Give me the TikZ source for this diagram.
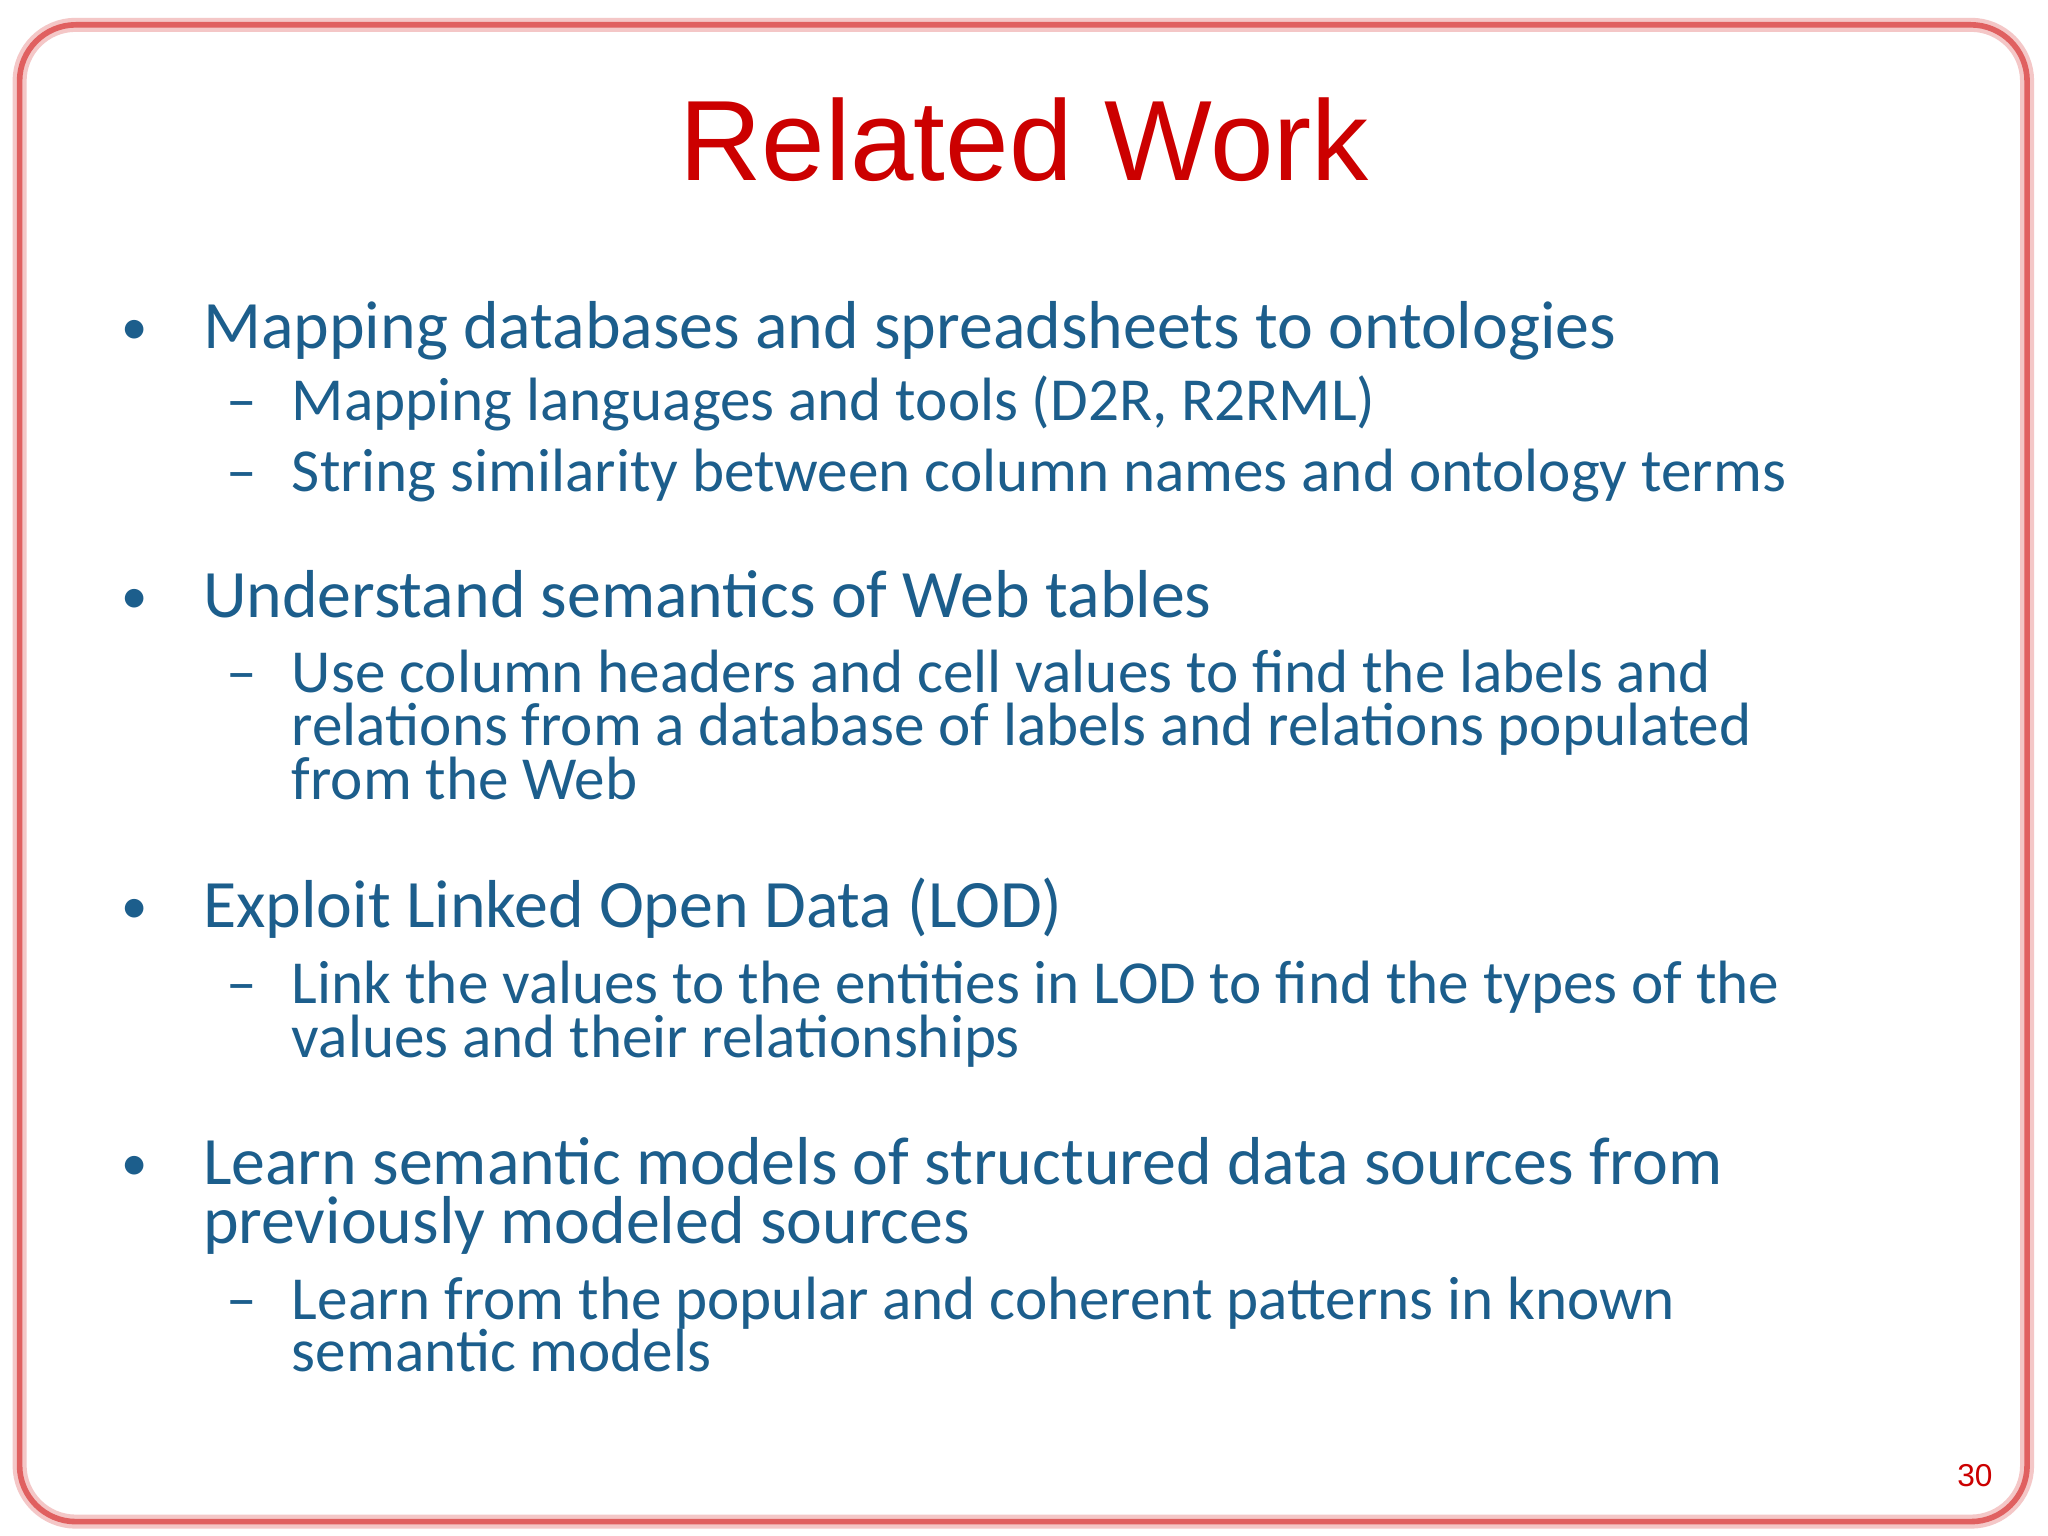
\documentclass[tikz,border=0pt]{standalone}
\usepackage{fontspec}
\setmainfont{Carlito}
\newfontfamily\arialf{Liberation Sans}
\definecolor{txtblue}{HTML}{1C5E8C}
\definecolor{titred}{HTML}{CC0000}
\definecolor{framered}{HTML}{E06060}
\begin{document}
\begin{tikzpicture}[x=0.013061cm,y=-0.013061cm,
  lone/.style={anchor=base west,inner sep=0,text=txtblue,font=\fontsize{19.3}{21}\selectfont},
  ltwo/.style={anchor=base west,inner sep=0,text=txtblue,font=\fontsize{17.4}{19}\selectfont},
  bul/.style={anchor=base,inner sep=0,text=txtblue,font=\fontsize{15}{17}\selectfont}]
\useasboundingbox (0,0) rectangle (1568,1176);
\fill[white] (0,0) rectangle (1568,1176);
\draw[framered!35,line width=4pt,rounded corners=16pt] (15,19) rectangle (1552,1165);
\draw[framered,line width=1.6pt,rounded corners=16pt] (15,19) rectangle (1552,1165);
\node[anchor=base,inner sep=0,text=titred,font=\arialf\fontsize{32.5}{34}\selectfont] (title) at (784,138) {Related Work};
\node[bul] (b1) at (103,264) {•};
\node[lone] (t1) at (155,267) {Mapping databases and spreadsheets to ontologies};
\node[ltwo] (d11) at (173,322) {–};
\node[ltwo] (t11) at (223,322) {Mapping languages and tools (D2R, R2RML)};
\node[ltwo] (d12) at (173,376) {–};
\node[ltwo] (t12) at (223,376) {String similarity between column names and ontology terms};
\node[bul] (b2) at (103,470) {•};
\node[lone] (t2) at (155,473) {Understand semantics of Web tables};
\node[ltwo] (d21) at (173,530) {–};
\node[ltwo] (t21a) at (223,530) {Use column headers and cell values to find the labels and};
\node[ltwo] (t21b) at (223,571) {relations from a database of labels and relations populated};
\node[ltwo] (t21c) at (223,612) {from the Web};
\node[bul] (b3) at (103,707) {•};
\node[lone] (t3) at (155,710) {Exploit Linked Open Data (LOD)};
\node[ltwo] (d31) at (173,768) {–};
\node[ltwo] (t31a) at (223,768) {Link the values to the entities in LOD to find the types of the};
\node[ltwo] (t31b) at (223,810) {values and their relationships};
\node[bul] (b4) at (103,904) {•};
\node[lone] (t4a) at (155,907) {Learn semantic models of structured data sources from};
\node[lone] (t4b) at (155,952) {previously modeled sources};
\node[ltwo] (d41) at (173,1010) {–};
\node[ltwo] (t41a) at (223,1010) {Learn from the popular and coherent patterns in known};
\node[ltwo] (t41b) at (223,1050) {semantic models};
\node[anchor=base east,inner sep=0,text=titred,font=\arialf\fontsize{9}{10}\selectfont] (pg) at (1526,1138) {30};
\end{tikzpicture}
\end{document}
